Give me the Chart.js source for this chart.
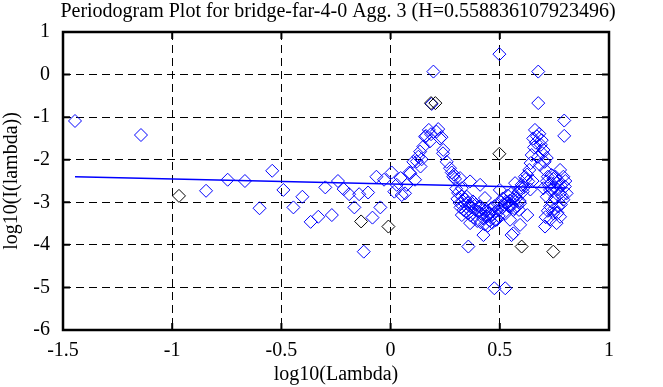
<!DOCTYPE html>
<html>
<head>
<meta charset="utf-8">
<script src="https://cdn.jsdelivr.net/npm/chart.js@4"></script>
<style>
  html, body { margin: 0; padding: 0; background: #fff; }
  #wrap { width: 663px; height: 387px; }
</style>
</head>
<body>
<div id="wrap"><canvas id="chart" width="663" height="387"></canvas></div>
<script>
// chart text
const titleText = 'Periodogram Plot for bridge-far-4-0 Agg. 3 (H=0.558836107923496)';
const xTitle = 'log10(Lambda)';
const yTitle = 'log10(I(lambda))';

// tick values
const xTicks = [-1.5, -1, -0.5, 0, 0.5, 1];
const yTicks = [-6, -5, -4, -3, -2, -1, 0, 1];

// periodogram points (blue)
const blueX = [
  -1.445, -1.143, -0.845, -0.746, -0.667, -0.600, -0.542, -0.491, -0.445, -0.404,
  -0.366, -0.331, -0.299, -0.269, -0.241, -0.215, -0.190, -0.166, -0.144, -0.123,
  -0.103, -0.083, -0.065, -0.047, -0.030,
  0.005, 0.017, 0.028, 0.046, 0.051, 0.066, 0.074, 0.086, 0.090, 0.104,
  0.112, 0.120, 0.127, 0.135, 0.137, 0.142, 0.150, 0.158, 0.162, 0.175,
  0.180, 0.185, 0.196, 0.188, 0.210, 0.218, 0.226, 0.233, 0.241, 0.240,
  0.257, 0.272, 0.280, 0.287, 0.290, 0.295, 0.318, 0.326, 0.349, 0.364,
  0.371, 0.410,
  0.326, 0.364, 0.425, 0.356, 0.410, 0.440, 0.463, 0.486, 0.432, 0.500,
  0.530, 0.570, 0.562, 0.547, 0.562, 0.475, 0.525, 0.498,
  0.300, 0.306, 0.309, 0.317, 0.320, 0.327, 0.331, 0.335, 0.342, 0.345,
  0.352, 0.355, 0.361, 0.366, 0.370, 0.377, 0.380, 0.386, 0.390, 0.397,
  0.400, 0.404, 0.412, 0.415, 0.421, 0.425, 0.431, 0.434, 0.442, 0.445,
  0.451, 0.454, 0.461, 0.465, 0.469, 0.476, 0.480, 0.484, 0.491, 0.495,
  0.501, 0.505, 0.511, 0.514, 0.521, 0.525, 0.531, 0.536, 0.540, 0.546,
  0.551, 0.555, 0.560, 0.566, 0.575, 0.581, 0.585, 0.591, 0.596,
  0.600, 0.570, 0.593, 0.588, 0.626, 0.593, 0.554, 0.543, 0.615, 0.630,
  0.635, 0.641, 0.646, 0.653, 0.657, 0.661, 0.681, 0.692, 0.700, 0.676,
  0.715, 0.684, 0.676, 0.676, 0.795, 0.795, 0.776, 0.737, 0.791, 0.715,
  0.760, 0.798, 0.700, 0.730, 0.776, 0.806, 0.715, 0.753, 0.791, 0.730,
  0.768, 0.745, 0.776, 0.730, 0.760, 0.707,
  0.605, 0.610, 0.620, 0.625, 0.665, 0.670, 0.688, 0.695, 0.705, 0.710,
  0.720, 0.725, 0.735, 0.740, 0.745, 0.750, 0.755, 0.765, 0.770, 0.780,
  0.785, 0.800, 0.740, 0.750, 0.765, 0.780, 0.720, 0.710, 0.640, 0.650
];
const blueY = [
  -1.09, -1.42, -2.73, -2.47, -2.50, -3.14, -2.26, -2.71, -3.12, -2.87,
  -3.46, -3.34, -2.65, -3.30, -2.50, -2.69, -2.81, -3.12, -2.81, -4.16,
  -2.77, -3.36, -2.40, -3.12, -2.47,
  -2.30, -2.75, -2.59, -2.43, -2.83, -2.79, -2.59, -2.30, -2.32, -2.05,
  -2.47, -2.04, -1.93, -1.81, -2.16, -1.99, -1.69, -1.46, -1.44, -1.30,
  -1.57, -1.40, 0.07, -0.69, -1.34, -1.28, -1.50, -1.47, -1.77, -1.85,
  -2.05, -2.20, -2.30, -2.40, -2.35, -2.45, -2.43, -2.67, -2.87, -2.51,
  -3.02, -2.59,
  -3.30, -3.49, -3.77, -4.04, -3.10, -3.18, -3.30, -3.41, -2.90, -2.71,
  -2.98, -2.87, -3.18, -3.41, -3.73, -5.02, -5.02, 0.48,
  -2.68, -2.92, -2.78, -3.02, -3.12, -2.86, -2.98, -3.18, -2.93, -3.22,
  -3.01, -3.26, -3.08, -3.31, -3.12, -2.98, -3.36, -3.17, -3.06, -3.44,
  -3.22, -3.11, -3.47, -3.27, -3.16, -3.38, -3.52, -3.21, -3.33, -3.55,
  -3.26, -3.43, -3.14, -3.48, -3.28, -3.09, -3.42, -3.21, -3.04, -3.32,
  -3.18, -3.00, -3.12, -2.91, -3.06, -3.27, -3.02, -2.84, -3.08, -2.96,
  -2.80, -3.07, -2.92, -3.14, -2.91, -3.08, -2.76, -2.97, -2.66,
  -2.59, -2.55, -3.02, -3.18, -3.30, -3.53, -3.77, -3.10, -2.40, -2.51,
  -2.24, -2.08, -1.89, -1.50, -1.71, -1.30, -1.39, -1.54, -1.77, -1.93,
  -1.96, -2.12, -0.67, 0.07, -1.08, -1.44, -2.24, -2.36, -2.40, -2.51,
  -2.55, -2.63, -2.67, -2.71, -2.79, -2.79, -2.87, -2.90, -2.94, -3.10,
  -3.10, -3.26, -3.34, -3.41, -3.49, -3.57,
  -2.75, -2.65, -2.45, -2.35, -1.60, -1.45, -1.65, -1.85, -2.05, -2.25,
  -2.40, -2.60, -2.55, -2.70, -2.45, -2.65, -2.40, -2.70, -2.50, -2.60,
  -2.85, -2.50, -3.00, -3.15, -3.25, -3.05, -3.20, -3.35, -2.70, -2.50
];

// second set of points (black)
const blackX = [-0.969, -0.135, -0.010, 0.185, 0.205, 0.498, 0.600, 0.745];
const blackY = [-2.85, -3.45, -3.57, -0.67, -0.67, -1.86, -4.04, -4.16];

// fitted line end points
const fitX = [-1.445, 0.806];
const fitY = [-2.40, -2.665];

const FONT = "'Liberation Serif', 'DejaVu Serif', serif";
const FSIZE = 20;

function toPoints(xs, ys) {
  return xs.map((x, i) => ({ x: x, y: ys[i] }));
}

// title, frame and inward ticks
const framePlugin = {
  id: 'frame',
  beforeDraw(chart) {
    const ctx = chart.ctx;
    ctx.save();
    ctx.fillStyle = '#000';
    ctx.font = FSIZE + 'px ' + FONT;
    ctx.textAlign = 'center';
    ctx.textBaseline = 'middle';
    ctx.fillText(titleText, 338, 12);
    ctx.restore();
  },
  afterDraw(chart) {
    const ctx = chart.ctx;
    const a = chart.chartArea;
    const xs = chart.scales.x, ys = chart.scales.y;
    ctx.save();
    ctx.strokeStyle = '#000';
    ctx.lineWidth = 2;
    ctx.beginPath();
    xTicks.forEach(v => {
      const px = xs.getPixelForValue(v);
      ctx.moveTo(px, a.top); ctx.lineTo(px, a.top + 7);
      ctx.moveTo(px, a.bottom); ctx.lineTo(px, a.bottom - 7);
    });
    yTicks.forEach(v => {
      const py = ys.getPixelForValue(v);
      ctx.moveTo(a.left, py); ctx.lineTo(a.left + 7, py);
      ctx.moveTo(a.right, py); ctx.lineTo(a.right - 7, py);
    });
    ctx.stroke();
    ctx.lineWidth = 2.5;
    ctx.strokeRect(a.left, a.top, a.right - a.left, a.bottom - a.top);
    ctx.restore();
  }
};

const gridColor = (ctx, lo, hi) =>
  (ctx.tick && (ctx.tick.value === lo || ctx.tick.value === hi)) ? 'rgba(0,0,0,0)' : '#000';

new Chart(document.getElementById('chart'), {
  type: 'scatter',
  data: {
    datasets: [
      {
        label: 'fit',
        type: 'line',
        data: toPoints(fitX, fitY),
        borderColor: '#0000ff',
        borderWidth: 1.5,
        pointRadius: 0,
        fill: false
      },
      {
        label: 'black',
        data: toPoints(blackX, blackY),
        pointStyle: 'rectRot',
        pointRadius: 6.5,
        borderColor: '#000',
        backgroundColor: 'rgba(0,0,0,0)',
        borderWidth: 1
      },
      {
        label: 'periodogram',
        data: toPoints(blueX, blueY),
        pointStyle: 'rectRot',
        pointRadius: 6.5,
        borderColor: '#0000ff',
        backgroundColor: 'rgba(0,0,0,0)',
        borderWidth: 1
      }
    ]
  },
  options: {
    responsive: false,
    animation: false,
    events: [],
    layout: { padding: { top: 32, left: 0, right: 54, bottom: 0 } },
    plugins: {
      legend: { display: false },
      tooltip: { enabled: false }
    },
    scales: {
      x: {
        type: 'linear',
        min: -1.5,
        max: 1,
        afterBuildTicks: s => { s.ticks = xTicks.map(v => ({ value: v })); },
        afterFit: s => { s.height = 57; },
        ticks: {
          color: '#000',
          padding: 9,
          font: { family: FONT, size: FSIZE },
          callback: v => String(v)
        },
        grid: {
          drawTicks: false,
          color: c => gridColor(c, -1.5, 1),
          lineWidth: 1
        },
        border: { display: false, dash: [8, 5] },
        title: {
          display: true,
          text: xTitle,
          color: '#000',
          font: { family: FONT, size: FSIZE },
          padding: { top: 0, bottom: 0 }
        }
      },
      y: {
        type: 'linear',
        min: -6,
        max: 1,
        afterBuildTicks: s => { s.ticks = yTicks.map(v => ({ value: v })); },
        afterFit: s => { s.width = 63; },
        ticks: {
          color: '#000',
          padding: 13,
          font: { family: FONT, size: FSIZE },
          callback: v => String(v)
        },
        grid: {
          drawTicks: false,
          color: c => gridColor(c, -6, 1),
          lineWidth: 1
        },
        border: { display: false, dash: [8, 5] },
        title: {
          display: true,
          text: yTitle,
          color: '#000',
          font: { family: FONT, size: FSIZE },
          padding: { top: 0, bottom: 0 }
        }
      }
    }
  },
  plugins: [framePlugin]
});
</script>
</body>
</html>
